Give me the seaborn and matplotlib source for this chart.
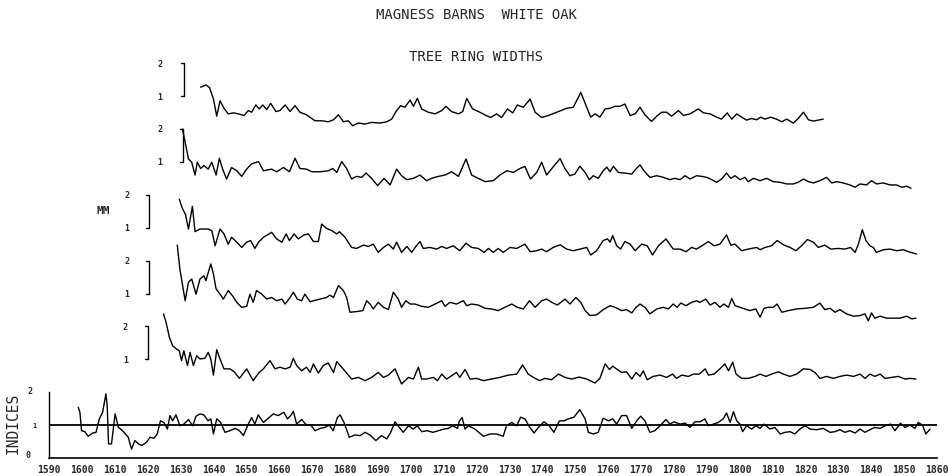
import numpy as np
import pandas as pd
import seaborn as sns
import matplotlib.pyplot as plt

# Ring widths (mm), one core per pair of lists
s1_year = [1636.1, 1637.7, 1638.8, 1640.0, 1641.0, 1642.0, 1643.2, 1644.5, 1646.1, 1647.6,
           1649.3, 1650.6, 1651.6, 1652.9, 1653.9, 1655.0, 1656.2, 1657.4, 1659.0, 1660.2,
           1661.8, 1663.3, 1664.8, 1666.3, 1668.3, 1670.9, 1672.9, 1674.9, 1676.5, 1678.0,
           1679.5, 1681.0, 1682.3, 1684.1, 1686.1, 1688.1, 1690.6, 1692.7, 1694.2, 1695.5,
           1696.9, 1698.2, 1699.8, 1700.8, 1702.0, 1703.3, 1705.3, 1707.4, 1709.4, 1710.7,
           1712.4, 1714.5, 1715.8, 1717.0, 1718.8, 1721.0, 1722.9, 1724.3, 1726.1, 1727.6,
           1729.4, 1731.0, 1732.4, 1734.2, 1736.3, 1737.8, 1739.8, 1741.8, 1743.9, 1745.4,
           1747.4, 1749.4, 1751.7, 1753.3, 1754.7, 1756.0, 1757.5, 1759.1, 1760.6, 1762.1,
           1763.6, 1765.1, 1766.7, 1768.2, 1769.7, 1771.2, 1773.2, 1774.8, 1776.3, 1777.8,
           1779.3, 1781.4, 1782.9, 1784.9, 1787.4, 1789.0, 1791.0, 1793.0, 1794.5, 1796.2,
           1797.6, 1799.1, 1800.6, 1802.1, 1803.6, 1805.2, 1806.4, 1807.7, 1809.4, 1811.2,
           1812.8, 1814.3, 1816.3, 1817.8, 1819.4, 1820.9, 1822.4, 1825.4]
s1_mm = [1.27, 1.34, 1.26, 0.91, 0.39, 0.86, 0.63, 0.46, 0.49, 0.46,
         0.41, 0.56, 0.51, 0.73, 0.61, 0.73, 0.59, 0.78, 0.53, 0.56,
         0.73, 0.53, 0.71, 0.51, 0.43, 0.25, 0.25, 0.22, 0.28, 0.43,
         0.22, 0.25, 0.10, 0.18, 0.15, 0.20, 0.18, 0.22, 0.30, 0.53,
         0.71, 0.66, 0.88, 0.69, 0.93, 0.61, 0.51, 0.46, 0.56, 0.69,
         0.53, 0.46, 0.53, 0.93, 0.61, 0.51, 0.41, 0.35, 0.46, 0.35,
         0.61, 0.49, 0.73, 0.66, 0.91, 0.51, 0.35, 0.41, 0.49, 0.55,
         0.63, 0.66, 1.11, 0.71, 0.36, 0.46, 0.36, 0.61, 0.63, 0.69,
         0.69, 0.76, 0.41, 0.46, 0.66, 0.43, 0.23, 0.39, 0.51, 0.51,
         0.39, 0.56, 0.41, 0.46, 0.61, 0.49, 0.46, 0.36, 0.30, 0.49,
         0.30, 0.46, 0.36, 0.27, 0.32, 0.28, 0.36, 0.30, 0.36, 0.30,
         0.22, 0.30, 0.18, 0.32, 0.51, 0.28, 0.24, 0.30]

s2_year = [1630.6, 1632.4, 1633.4, 1634.4, 1635.1, 1636.1, 1637.1, 1638.4, 1639.5, 1640.8,
           1641.8, 1642.8, 1644.0, 1645.5, 1647.1, 1648.6, 1650.1, 1651.6, 1653.7, 1655.2,
           1657.7, 1659.2, 1661.3, 1663.1, 1664.8, 1666.3, 1668.3, 1669.9, 1672.4, 1674.9,
           1676.3, 1677.5, 1679.0, 1680.5, 1682.0, 1683.5, 1685.1, 1686.4, 1688.1, 1689.9,
           1691.9, 1693.7, 1695.7, 1697.2, 1698.8, 1700.8, 1702.8, 1704.8, 1706.3, 1708.4,
           1710.4, 1712.4, 1714.5, 1716.8, 1718.5, 1720.5, 1722.6, 1725.1, 1727.1, 1729.2,
           1731.2, 1733.2, 1734.7, 1736.4, 1738.3, 1739.8, 1741.3, 1742.9, 1745.4, 1746.9,
           1748.4, 1749.9, 1751.4, 1753.0, 1754.3, 1755.5, 1757.0, 1758.5, 1759.6, 1760.6,
           1761.6, 1763.1, 1765.1, 1767.2, 1768.5, 1769.7, 1770.9, 1772.7, 1774.8, 1776.8,
           1778.8, 1780.3, 1781.9, 1783.4, 1784.9, 1786.9, 1788.5, 1790.0, 1791.5, 1793.0,
           1794.5, 1796.0, 1797.3, 1798.6, 1800.1, 1801.6, 1802.6, 1804.2, 1806.2, 1808.2,
           1810.2, 1812.3, 1814.3, 1816.3, 1817.8, 1819.4, 1820.9, 1822.4, 1824.4, 1826.4,
           1828.0, 1829.5, 1831.5, 1833.5, 1835.1, 1836.6, 1838.6, 1840.1, 1841.6, 1843.7,
           1845.7, 1847.7, 1849.3, 1850.8, 1852.1]
s2_mm = [2.00, 1.09, 0.99, 0.60, 0.99, 0.80, 0.89, 0.78, 0.99, 0.60,
         1.11, 0.78, 0.48, 0.83, 0.73, 0.56, 0.78, 0.94, 1.01, 0.73,
         0.78, 0.70, 0.83, 0.70, 1.11, 0.80, 0.78, 0.70, 0.70, 0.73,
         0.80, 0.68, 1.01, 0.80, 0.48, 0.56, 0.53, 0.66, 0.50, 0.28,
         0.50, 0.30, 0.78, 0.58, 0.46, 0.50, 0.60, 0.43, 0.50, 0.56,
         0.60, 0.70, 0.56, 1.09, 0.60, 0.50, 0.40, 0.43, 0.60, 0.73,
         0.68, 0.80, 0.86, 0.48, 0.68, 0.99, 0.60, 0.80, 1.10, 0.79,
         0.58, 0.63, 0.87, 0.68, 0.46, 0.58, 0.50, 0.73, 0.84, 0.70,
         0.87, 0.68, 0.66, 0.63, 0.79, 0.91, 0.73, 0.53, 0.58, 0.53,
         0.46, 0.50, 0.46, 0.58, 0.48, 0.58, 0.56, 0.53, 0.46, 0.38,
         0.48, 0.66, 0.50, 0.58, 0.46, 0.53, 0.40, 0.50, 0.43, 0.50,
         0.40, 0.38, 0.33, 0.33, 0.38, 0.48, 0.40, 0.36, 0.43, 0.53,
         0.36, 0.40, 0.36, 0.30, 0.23, 0.33, 0.30, 0.43, 0.33, 0.36,
         0.30, 0.30, 0.23, 0.26, 0.20]

s3_year = [1629.6, 1630.5, 1631.5, 1632.4, 1633.6, 1634.4, 1635.9, 1638.4, 1639.5, 1640.5,
           1642.0, 1643.2, 1644.5, 1645.5, 1647.1, 1648.6, 1650.1, 1651.3, 1652.6, 1653.7,
           1655.2, 1656.4, 1657.7, 1659.2, 1660.8, 1662.1, 1663.1, 1664.5, 1665.8, 1667.5,
           1668.9, 1670.4, 1671.9, 1672.9, 1674.4, 1676.0, 1677.5, 1678.3, 1680.0, 1682.0,
           1683.5, 1685.6, 1687.1, 1688.6, 1690.1, 1691.7, 1693.2, 1694.7, 1695.7, 1697.2,
           1698.8, 1700.3, 1701.3, 1702.8, 1703.8, 1705.8, 1707.9, 1709.4, 1710.9, 1712.9,
           1714.9, 1716.8, 1718.5, 1720.5, 1722.3, 1723.6, 1725.1, 1726.6, 1728.1, 1730.2,
           1732.2, 1734.7, 1736.3, 1738.3, 1739.8, 1741.3, 1743.3, 1745.4, 1747.4, 1749.4,
           1751.5, 1753.5, 1754.7, 1756.5, 1758.5, 1759.8, 1760.6, 1761.4, 1762.6, 1763.8,
           1765.1, 1766.7, 1768.2, 1770.2, 1771.9, 1773.5, 1775.3, 1777.6, 1779.8, 1781.9,
           1783.7, 1785.4, 1786.9, 1788.5, 1790.5, 1792.2, 1794.0, 1796.0, 1797.3, 1798.6,
           1800.6, 1802.6, 1805.2, 1806.2, 1807.7, 1809.7, 1811.4, 1813.5, 1815.3, 1817.1,
           1818.8, 1820.6, 1822.4, 1823.9, 1825.9, 1827.7, 1830.0, 1832.0, 1833.7, 1835.1,
           1836.1, 1837.3, 1838.4, 1839.6, 1840.6, 1841.6, 1843.7, 1845.7, 1847.7, 1849.8,
           1851.3, 1853.8]
s3_mm = [1.87, 1.60, 1.40, 0.96, 1.65, 0.88, 0.96, 0.96, 0.91, 0.45,
         0.96, 0.81, 0.50, 0.71, 0.56, 0.40, 0.56, 0.61, 0.37, 0.56,
         0.71, 0.78, 0.86, 0.66, 0.56, 0.81, 0.61, 0.81, 0.66, 0.78,
         0.81, 0.58, 0.58, 1.11, 0.98, 0.91, 0.81, 0.88, 0.71, 0.40,
         0.37, 0.47, 0.43, 0.50, 0.25, 0.40, 0.50, 0.35, 0.56, 0.25,
         0.43, 0.25, 0.40, 0.58, 0.37, 0.40, 0.35, 0.43, 0.37, 0.45,
         0.30, 0.53, 0.40, 0.37, 0.25, 0.37, 0.25, 0.37, 0.25, 0.40,
         0.37, 0.50, 0.27, 0.30, 0.35, 0.27, 0.40, 0.48, 0.35, 0.30,
         0.35, 0.40, 0.17, 0.30, 0.61, 0.66, 0.56, 0.76, 0.45, 0.35,
         0.58, 0.50, 0.30, 0.50, 0.45, 0.17, 0.45, 0.66, 0.35, 0.35,
         0.27, 0.40, 0.35, 0.45, 0.58, 0.45, 0.50, 0.78, 0.47, 0.50,
         0.30, 0.35, 0.40, 0.33, 0.40, 0.45, 0.61, 0.47, 0.40, 0.30,
         0.45, 0.64, 0.56, 0.40, 0.47, 0.35, 0.37, 0.35, 0.40, 0.25,
         0.50, 0.94, 0.61, 0.45, 0.40, 0.25, 0.33, 0.35, 0.30, 0.33,
         0.27, 0.20]

s4_year = [1629.0, 1629.8, 1631.4, 1632.4, 1633.4, 1634.7, 1635.9, 1637.1, 1637.7, 1639.2,
           1640.0, 1640.8, 1642.0, 1643.0, 1644.5, 1645.8, 1647.1, 1648.6, 1650.1, 1651.1,
           1652.1, 1653.1, 1654.7, 1656.2, 1657.7, 1659.2, 1660.8, 1661.8, 1663.3, 1664.3,
           1665.5, 1666.8, 1667.8, 1669.4, 1670.4, 1672.4, 1674.4, 1675.4, 1676.5, 1678.0,
           1679.5, 1680.5, 1681.5, 1683.5, 1685.4, 1686.6, 1687.6, 1688.6, 1690.1, 1691.7,
           1693.2, 1694.7, 1696.2, 1697.2, 1698.5, 1699.8, 1701.3, 1703.3, 1705.3, 1707.4,
           1709.4, 1710.4, 1711.9, 1713.9, 1716.0, 1717.0, 1718.5, 1720.5, 1722.6, 1724.5,
           1726.6, 1728.6, 1730.7, 1732.4, 1734.2, 1736.1, 1737.8, 1739.8, 1741.3, 1742.9,
           1744.6, 1746.9, 1748.4, 1750.2, 1751.7, 1753.0, 1754.5, 1756.5, 1758.5, 1760.6,
           1762.1, 1764.1, 1765.6, 1767.2, 1768.5, 1769.7, 1771.2, 1772.7, 1774.8, 1776.8,
           1778.3, 1779.8, 1781.0, 1782.1, 1783.7, 1785.4, 1786.9, 1787.9, 1789.7, 1791.0,
           1792.5, 1794.0, 1795.2, 1796.6, 1797.6, 1798.6, 1800.1, 1801.6, 1803.1, 1804.9,
           1806.2, 1807.4, 1808.7, 1810.2, 1811.4, 1812.8, 1814.8, 1817.3, 1819.9, 1822.4,
           1824.4, 1825.9, 1827.5, 1829.0, 1830.5, 1832.5, 1834.6, 1836.6, 1838.1, 1839.1,
           1840.1, 1841.1, 1842.7, 1844.7, 1846.7, 1848.7, 1850.8, 1852.3, 1853.6]
s4_mm = [2.47, 1.74, 0.78, 1.34, 1.44, 0.98, 1.44, 1.54, 1.39, 1.90,
         1.59, 1.14, 0.98, 0.83, 1.09, 0.93, 0.73, 0.58, 0.61, 0.98,
         0.73, 1.09, 0.98, 0.83, 0.88, 0.78, 0.83, 0.68, 0.88, 1.04,
         0.83, 0.78, 0.98, 0.75, 0.78, 0.83, 0.88, 0.95, 0.88, 1.24,
         1.09, 0.88, 0.43, 0.45, 0.48, 0.78, 0.68, 0.53, 0.73, 0.58,
         0.51, 1.04, 0.83, 0.58, 0.78, 0.68, 0.68, 0.61, 0.58, 0.68,
         0.78, 0.61, 0.73, 0.68, 0.78, 0.63, 0.68, 0.65, 0.55, 0.53,
         0.48, 0.58, 0.68, 0.58, 0.53, 0.78, 0.58, 0.78, 0.83, 0.73,
         0.65, 0.83, 0.68, 0.88, 0.73, 0.48, 0.33, 0.35, 0.51, 0.63,
         0.58, 0.48, 0.51, 0.41, 0.58, 0.68, 0.58, 0.38, 0.53, 0.58,
         0.53, 0.68, 0.58, 0.71, 0.63, 0.73, 0.78, 0.73, 0.83, 0.65,
         0.73, 0.58, 0.68, 0.58, 0.85, 0.63, 0.58, 0.53, 0.48, 0.53,
         0.28, 0.55, 0.58, 0.58, 0.68, 0.43, 0.48, 0.53, 0.55, 0.58,
         0.71, 0.51, 0.55, 0.43, 0.51, 0.38, 0.31, 0.33, 0.38, 0.17,
         0.41, 0.25, 0.31, 0.25, 0.25, 0.25, 0.31, 0.23, 0.25]

s5_year = [1624.8, 1625.6, 1626.6, 1627.6, 1628.8, 1629.6, 1630.3, 1631.0, 1632.1, 1632.9,
           1633.9, 1634.9, 1635.9, 1637.4, 1638.4, 1639.2, 1640.0, 1641.0, 1642.0, 1643.2,
           1645.0, 1646.3, 1647.9, 1650.1, 1652.1, 1653.7, 1655.2, 1657.2, 1658.7, 1660.2,
           1661.8, 1663.3, 1664.3, 1665.3, 1666.8, 1668.3, 1669.4, 1670.4, 1671.9, 1673.4,
           1674.9, 1676.5, 1677.5, 1679.0, 1680.5, 1682.0, 1684.1, 1686.1, 1688.1, 1690.1,
           1691.7, 1693.2, 1695.2, 1697.2, 1699.3, 1700.8, 1702.3, 1703.3, 1704.8, 1706.9,
           1708.1, 1709.4, 1710.9, 1712.4, 1713.9, 1714.9, 1716.5, 1718.0, 1720.0, 1722.1,
           1724.5, 1727.1, 1729.7, 1732.2, 1734.0, 1735.7, 1737.3, 1739.1, 1740.8, 1742.8,
           1744.9, 1746.9, 1748.9, 1751.2, 1753.5, 1756.0, 1757.5, 1759.1, 1760.4, 1761.4,
           1762.8, 1764.1, 1765.6, 1767.2, 1768.5, 1769.7, 1770.7, 1771.9, 1773.7, 1775.8,
           1777.8, 1779.6, 1780.8, 1782.4, 1784.4, 1785.9, 1787.7, 1789.5, 1790.5, 1792.2,
           1794.0, 1795.5, 1796.6, 1797.9, 1798.9, 1800.6, 1802.6, 1804.7, 1806.2, 1808.0,
           1809.7, 1811.8, 1813.3, 1815.3, 1817.3, 1819.4, 1821.4, 1822.9, 1824.4, 1826.4,
           1828.5, 1830.5, 1832.5, 1834.6, 1836.6, 1838.1, 1839.6, 1841.1, 1842.7, 1844.2,
           1846.2, 1848.2, 1850.3, 1851.8, 1853.6]
s5_mm = [2.38, 2.12, 1.67, 1.41, 1.31, 1.26, 0.96, 1.26, 0.81, 1.21,
         0.81, 1.11, 1.01, 1.03, 1.21, 1.01, 0.52, 1.29, 1.01, 0.71,
         0.71, 0.62, 0.42, 0.71, 0.35, 0.58, 0.71, 0.96, 0.71, 0.76,
         0.71, 0.76, 1.03, 0.81, 0.65, 0.76, 0.60, 0.86, 0.58, 0.81,
         0.89, 0.60, 0.93, 0.76, 0.58, 0.40, 0.45, 0.35, 0.45, 0.60,
         0.45, 0.52, 0.71, 0.25, 0.45, 0.40, 0.76, 0.40, 0.40, 0.45,
         0.35, 0.55, 0.40, 0.50, 0.60, 0.45, 0.69, 0.40, 0.42, 0.35,
         0.40, 0.45, 0.52, 0.55, 0.83, 0.55, 0.45, 0.35, 0.42, 0.38,
         0.55, 0.45, 0.40, 0.46, 0.40, 0.28, 0.42, 0.86, 0.69, 0.79,
         0.69, 0.60, 0.62, 0.40, 0.60, 0.48, 0.65, 0.38, 0.48, 0.52,
         0.45, 0.55, 0.42, 0.52, 0.48, 0.55, 0.55, 0.71, 0.52, 0.55,
         0.71, 0.86, 0.65, 0.91, 0.55, 0.42, 0.42, 0.48, 0.55, 0.48,
         0.55, 0.62, 0.55, 0.48, 0.55, 0.71, 0.69, 0.60, 0.42, 0.48,
         0.42, 0.48, 0.52, 0.48, 0.55, 0.42, 0.55, 0.48, 0.55, 0.42,
         0.45, 0.48, 0.40, 0.42, 0.40]

# Standardised indices (bottom panel)
idx_year = [1598.9, 1599.4, 1599.9, 1600.9, 1601.9, 1603.3, 1604.3, 1605.3, 1606.3, 1607.3,
            1607.7, 1608.1, 1609.0, 1610.1, 1611.1, 1611.8, 1612.8, 1614.1, 1615.1, 1616.1,
            1617.2, 1618.2, 1619.7, 1620.7, 1621.9, 1622.9, 1623.9, 1624.9, 1626.0, 1626.8,
            1627.6, 1628.6, 1629.8, 1631.0, 1632.4, 1633.7, 1634.7, 1635.9, 1637.1, 1638.4,
            1639.2, 1640.0, 1641.0, 1642.2, 1643.5, 1645.0, 1646.6, 1647.9, 1649.1, 1650.6,
            1651.6, 1652.6, 1653.6, 1655.2, 1656.7, 1658.2, 1659.7, 1661.4, 1662.5, 1663.5,
            1664.3, 1665.3, 1666.8, 1668.3, 1669.6, 1670.9, 1672.4, 1673.9, 1675.2, 1676.4,
            1677.7, 1678.5, 1679.7, 1681.3, 1683.0, 1684.6, 1686.1, 1687.6, 1689.4, 1691.1,
            1692.7, 1693.9, 1695.2, 1696.5, 1697.7, 1699.3, 1700.8, 1702.0, 1703.3, 1705.0,
            1706.7, 1708.4, 1710.1, 1711.4, 1712.7, 1714.2, 1714.8, 1715.6, 1716.5, 1717.5,
            1719.5, 1722.1, 1724.1, 1726.1, 1728.1, 1729.1, 1730.7, 1732.2, 1733.4, 1734.7,
            1736.2, 1737.5, 1738.8, 1740.5, 1742.1, 1743.5, 1745.2, 1746.6, 1747.9, 1749.6,
            1751.4, 1753.0, 1754.0, 1755.5, 1757.0, 1758.5, 1760.1, 1761.4, 1762.6, 1764.1,
            1765.6, 1767.2, 1768.7, 1769.9, 1771.2, 1772.7, 1774.2, 1775.8, 1777.6, 1778.8,
            1780.0, 1781.9, 1783.4, 1784.9, 1786.4, 1788.0, 1789.4, 1790.5, 1792.0, 1793.5,
            1795.0, 1796.0, 1797.1, 1798.1, 1799.1, 1800.1, 1800.9, 1802.1, 1803.6, 1805.0,
            1806.2, 1807.4, 1809.2, 1810.7, 1812.3, 1813.8, 1815.3, 1816.8, 1818.3, 1819.9,
            1821.4, 1823.4, 1825.4, 1827.5, 1829.0, 1830.5, 1832.0, 1833.5, 1835.1, 1836.6,
            1838.1, 1839.6, 1841.1, 1842.7, 1844.2, 1845.9, 1847.2, 1848.9, 1850.3, 1851.8,
            1853.3, 1854.3, 1855.6, 1856.6, 1857.9]
idx_val = [1.54, 1.39, 0.83, 0.80, 0.66, 0.76, 0.78, 1.19, 1.39, 1.95,
           1.59, 0.43, 0.43, 1.34, 0.93, 0.88, 0.78, 0.63, 0.27, 0.53,
           0.43, 0.38, 0.48, 0.63, 0.60, 0.73, 1.13, 1.08, 0.88, 1.29,
           1.13, 1.31, 0.98, 1.03, 1.17, 0.98, 1.27, 1.34, 1.31, 1.13,
           1.19, 0.73, 1.19, 1.08, 0.78, 0.83, 0.90, 0.83, 0.68, 1.03,
           1.23, 1.03, 1.31, 1.08, 1.21, 1.34, 1.29, 1.39, 1.19, 1.29,
           1.42, 1.03, 1.17, 1.00, 1.00, 0.83, 0.90, 0.93, 1.00, 0.83,
           1.23, 1.31, 1.08, 0.63, 0.70, 0.68, 0.78, 0.70, 0.53, 0.68,
           0.58, 0.78, 1.10, 0.93, 0.78, 0.98, 0.88, 0.98, 0.80, 0.83,
           0.78, 0.83, 0.88, 0.90, 0.98, 0.90, 1.13, 1.23, 0.88, 0.98,
           0.88, 0.66, 0.73, 0.73, 0.66, 0.98, 1.08, 0.98, 1.24, 1.19,
           0.93, 0.76, 0.93, 1.10, 0.98, 0.78, 1.13, 1.13, 1.19, 1.24,
           1.47, 1.19, 0.78, 0.73, 0.78, 1.21, 1.13, 1.19, 1.03, 1.29,
           1.29, 0.90, 1.13, 1.27, 1.13, 0.78, 0.83, 0.98, 1.17, 1.03,
           1.10, 1.03, 1.06, 0.93, 1.10, 1.10, 1.19, 0.98, 1.03, 1.08,
           1.19, 1.37, 1.08, 1.41, 1.13, 1.03, 0.80, 0.98, 0.88, 0.98,
           0.90, 1.03, 0.88, 0.93, 0.73, 0.78, 0.80, 0.73, 0.88, 0.98,
           0.88, 0.86, 0.90, 0.78, 0.80, 0.86, 0.78, 0.83, 0.76, 0.88,
           0.78, 0.86, 0.93, 0.90, 0.98, 1.03, 0.83, 1.06, 0.93, 1.00,
           0.90, 1.08, 1.00, 0.73, 0.88]

cores = [(s1_year, s1_mm, 10), (s2_year, s2_mm, 8), (s3_year, s3_mm, 6),
         (s4_year, s4_mm, 4), (s5_year, s5_mm, 2)]
# x position of the little 1-2 mm scale bar and of its labels for each core
bar_x = [1630.9, 1630.6, 1620.4, 1620.4, 1620.1]
lab_x = [1623.7, 1623.7, 1613.7, 1613.7, 1613.2]

sns.set_style("white")
plt.rcParams['font.family'] = ['DejaVu Sans Mono', 'DejaVu Sans']

fig = plt.figure(figsize=(9.48, 4.77), dpi=100)
ax = fig.add_axes([49 / 948, 1 - 459 / 477, 888 / 948, 459 / 477])

for (yr, mm, off), bx, lx in zip(cores, bar_x, lab_x):
    df = pd.DataFrame({'year': yr, 'y': np.array(mm) + off})
    sns.lineplot(data=df, x='year', y='y', ax=ax, color='black', lw=1.0,
                 estimator=None, sort=False)
    ax.plot([bx - 0.8, bx, bx, bx - 0.8], [off + 2, off + 2, off + 1, off + 1],
            color='black', lw=1.0)
    ax.text(lx, off + 2, '2', ha='center', va='center', fontsize=6, fontweight='bold')
    ax.text(lx, off + 1, '1', ha='center', va='center', fontsize=6, fontweight='bold')

df_idx = pd.DataFrame({'year': idx_year, 'y': idx_val})
sns.lineplot(data=df_idx, x='year', y='y', ax=ax, color='black', lw=1.0,
             estimator=None, sort=False)
ax.axhline(1, color='black', lw=1.3)

ax.set_xlim(1590, 1860)
ax.set_ylim(0, 459 / 32.9)
ax.set_xticks(np.arange(1590, 1861, 10))
ax.set_xticklabels([str(t) for t in range(1590, 1861, 10)], fontsize=7, fontweight='bold')
ax.set_yticks([])
ax.set_xlabel('')
ax.set_ylabel('')
ax.tick_params(axis='x', length=0, pad=4)
for side in ['top', 'right']:
    ax.spines[side].set_visible(False)
ax.spines['left'].set_bounds(0, 2)
ax.spines['left'].set_linewidth(1.0)
ax.spines['bottom'].set_linewidth(1.2)
ax.spines['left'].set_color('black')
ax.spines['bottom'].set_color('black')

# index axis labels
ax.text(1584.2, 2.05, '2', ha='center', va='center', fontsize=6, fontweight='bold', clip_on=False)
ax.text(1585.7, 1.0, '1', ha='center', va='center', fontsize=5, fontweight='bold', clip_on=False)
ax.text(1583.6, 0.12, '0', ha='center', va='center', fontsize=6, fontweight='bold', clip_on=False)
ax.text(1579.0, 1.09, 'INDICES', rotation=90, ha='center', va='center', fontsize=10.5, clip_on=False)
ax.text(1606.4, 7.54, 'MM', ha='center', va='center', fontsize=8, fontweight='bold')

fig.text(476 / 948, 1 - 15 / 477, 'MAGNESS BARNS  WHITE OAK', ha='center', va='center', fontsize=10)
fig.text(476 / 948, 1 - 57 / 477, 'TREE RING WIDTHS', ha='center', va='center', fontsize=10)

fig.savefig('out.png', dpi=100)
